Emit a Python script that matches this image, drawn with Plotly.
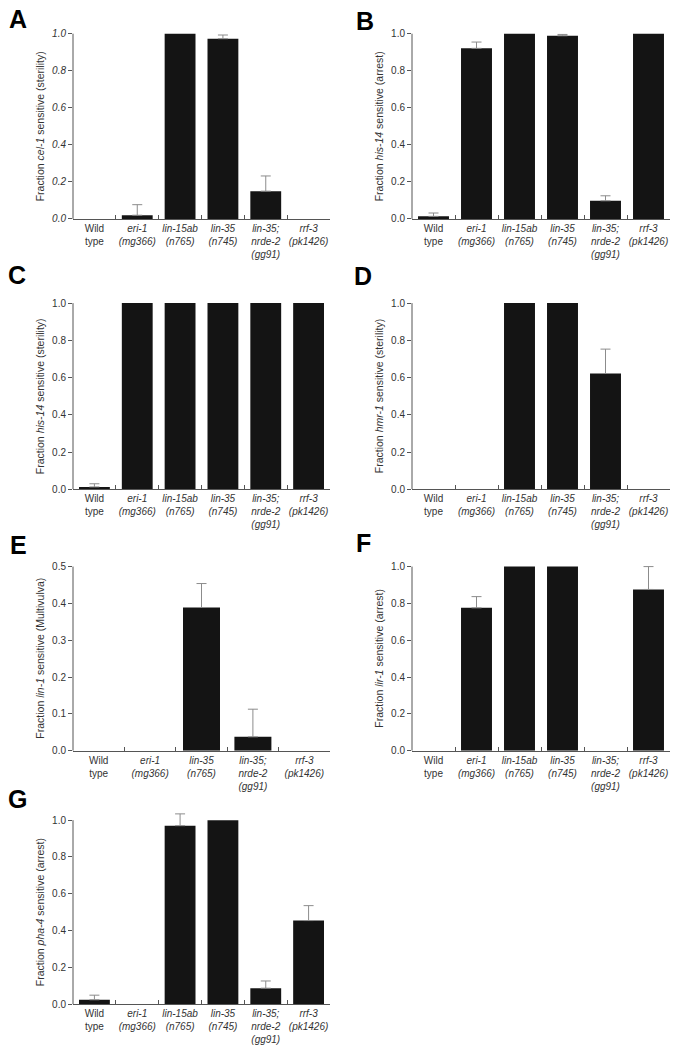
import plotly.graph_objects as go

W, H = 677, 1050

# categories (6-strain panels and the 5-strain panel E)
CATS_6 = ["Wild type", "eri-1 (mg366)", "lin-15ab (n765)", "lin-35 (n745)",
          "lin-35; nrde-2 (gg91)", "rrf-3 (pk1426)"]
CATS_5 = ["Wild type", "eri-1 (mg366)", "lin-35 (n765)",
          "lin-35; nrde-2 (gg91)", "rrf-3 (pk1426)"]

TICK_TEXT = {
    "Wild type":             "Wild<br>type",
    "eri-1 (mg366)":         "<i>eri-1</i><br><i>(mg366)</i>",
    "lin-15ab (n765)":       "<i>lin-15ab</i><br><i>(n765)</i>",
    "lin-35 (n745)":         "<i>lin-35</i><br><i>(n745)</i>",
    "lin-35 (n765)":         "<i>lin-35</i><br><i>(n765)</i>",
    "lin-35; nrde-2 (gg91)": "<i>lin-35;</i><br><i>nrde-2</i><br><i>(gg91)</i>",
    "rrf-3 (pk1426)":        "<i>rrf-3</i><br><i>(pk1426)</i>",
}

# fraction sensitive, and upper error bar length
A_VALS = [0.0,   0.02,  1.0,  0.973, 0.15,  0.0]
A_ERR  = [0.0,   0.057, 0.0,  0.02,  0.082, 0.0]
B_VALS = [0.014, 0.921, 1.0,  0.989, 0.098, 1.0]
B_ERR  = [0.018, 0.034, 0.0,  0.007, 0.027, 0.0]
C_VALS = [0.013, 1.0,   1.0,  1.0,   1.0,   1.0]
C_ERR  = [0.017, 0.0,   0.0,  0.0,   0.0,   0.0]
D_VALS = [0.0,   0.0,   1.0,  1.0,   0.622, 0.0]
D_ERR  = [0.0,   0.0,   0.0,  0.0,   0.131, 0.0]
E_VALS = [0.0,   0.0,   0.389, 0.038, 0.0]
E_ERR  = [0.0,   0.0,   0.065, 0.075, 0.0]
F_VALS = [0.0,   0.776, 1.0,  1.0,   0.0,   0.876]
F_ERR  = [0.0,   0.061, 0.0,  0.0,   0.0,   0.124]
G_VALS = [0.025, 0.0,   0.97, 1.0,   0.088, 0.455]
G_ERR  = [0.025, 0.0,   0.064, 0.0,  0.039, 0.081]

Y_TITLES = {
    "A": "Fraction <i>cel-1</i> sensitive (sterility)",
    "B": "Fraction <i>his-14</i> sensitive (arrest)",
    "C": "Fraction <i>his-14</i> sensitive (sterility)",
    "D": "Fraction <i>hmr-1</i> sensitive (sterility)",
    "E": "Fraction <i>lin-1</i> sensitive (Multivulva)",
    "F": "Fraction <i>lir-1</i> sensitive (arrest)",
    "G": "Fraction <i>pha-4</i> sensitive (arrest)",
}

FONT = "Liberation Sans, Arial, Helvetica, sans-serif"
INK = "#333333"
AXIS = "#555555"
BAR = "#141414"
ERR = "#8c8c8c"

# panel placement in pixels
COL_L = (73, 330)
COL_R = (412, 670)
ROWS = [(30, 217), (302, 490), (568, 754), (824, 1010)]

panels = [
    ("A", CATS_6, A_VALS, A_ERR, 1.0, 0.2, COL_L, ROWS[0]),
    ("B", CATS_6, B_VALS, B_ERR, 1.0, 0.2, COL_R, ROWS[0]),
    ("C", CATS_6, C_VALS, C_ERR, 1.0, 0.2, COL_L, ROWS[1]),
    ("D", CATS_6, D_VALS, D_ERR, 1.0, 0.2, COL_R, ROWS[1]),
    ("E", CATS_5, E_VALS, E_ERR, 0.5, 0.1, COL_L, ROWS[2]),
    ("F", CATS_6, F_VALS, F_ERR, 1.0, 0.2, COL_R, ROWS[2]),
    ("G", CATS_6, G_VALS, G_ERR, 1.0, 0.2, COL_L, ROWS[3]),
]

# panel letter: left edge x, vertical centre y (pixels)
LETTER_POS = {"A": (7, 15), "B": (354, 17), "C": (6, 274), "D": (352, 275),
              "E": (8, 546), "F": (354, 544), "G": (6, 803)}


def px(x):
    return x / W


def py(y):
    return 1 - y / H


fig = go.Figure()
layout = {}
annotations = []
shapes = []

for i, (letter, cats, vals, errs, ymax, dtick, (x0, x1), (yt, yb)) in enumerate(panels, 1):
    key = "" if i == 1 else str(i)
    xa, ya = f"x{key}", f"y{key}"

    fig.add_trace(go.Bar(
        x=cats, y=vals, width=0.72,
        marker=dict(color=BAR, line=dict(width=0)),
        xaxis=xa, yaxis=ya, showlegend=False,
    ))

    # one-sided error bars only where there is an error
    ex = [c for c, e in zip(cats, errs) if e > 0]
    ey = [v for v, e in zip(vals, errs) if e > 0]
    ee = [e for e in errs if e > 0]
    fig.add_trace(go.Scatter(
        x=ex, y=ey, mode="markers",
        marker=dict(size=1, opacity=0),
        error_y=dict(type="data", symmetric=False, array=ee,
                     arrayminus=[0] * len(ee), color=ERR,
                     thickness=1, width=5),
        xaxis=xa, yaxis=ya, showlegend=False, hoverinfo="skip",
    ))

    # let error bars poke above the axis top: extend the range, keep the
    # axis line drawn only from 0 to ymax
    top = max([ymax] + [v + e for v, e in zip(vals, errs)]) * 1.01
    yt_ext = yb - (yb - yt) * top / ymax

    layout[f"xaxis{key}"] = dict(
        domain=[px(x0), px(x1)], anchor=ya,
        type="category", range=[-0.5, len(cats) - 0.5],
        tickmode="array", tickvals=cats, ticktext=[TICK_TEXT[c] for c in cats],
        tickangle=0, tickson="boundaries", ticks="inside", ticklen=4,
        tickcolor=AXIS, showline=True, linecolor=AXIS,
        linewidth=1, showgrid=False, zeroline=False,
        tickfont=dict(family=FONT, size=10, color=INK),
    )
    tickfont = dict(family=FONT, size=10, color=INK)
    if letter == "A":
        tickfont["style"] = "italic"
    layout[f"yaxis{key}"] = dict(
        domain=[py(yb), py(yt_ext)], anchor=xa,
        range=[0, top], tickmode="linear", dtick=dtick, tick0=0,
        tickformat=".1f", ticks="outside", ticklen=4, tickcolor=AXIS,
        showline=False, showgrid=False, zeroline=False, tickfont=tickfont,
    )
    shapes.append(dict(
        type="line", xref=f"{xa} domain", yref=ya,
        x0=0, x1=0, y0=0, y1=ymax,
        line=dict(color=AXIS, width=1),
    ))

    # y axis title
    annotations.append(dict(
        text=Y_TITLES[letter], textangle=-90,
        x=px(x0 - 33), y=py((yt + yb) / 2), xref="paper", yref="paper",
        xanchor="center", yanchor="middle", showarrow=False,
        font=dict(family=FONT, size=10.5, color=INK),
    ))

    lx, ly = LETTER_POS[letter]
    annotations.append(dict(
        text=f"<b>{letter}</b>",
        x=px(lx), y=py(ly), xref="paper", yref="paper",
        xanchor="left", yanchor="middle", showarrow=False,
        font=dict(family=FONT, size=25, color="#000000"),
    ))

fig.update_layout(
    width=W, height=H,
    margin=dict(l=0, r=0, t=0, b=0),
    paper_bgcolor="white", plot_bgcolor="white",
    bargap=0.28, annotations=annotations, shapes=shapes,
    **layout,
)

# drop the browser's default body margin so the figure sits at the page corner
fig.write_html("out.html", config={"displayModeBar": False},
               post_script="document.body.style.margin = '0';")
